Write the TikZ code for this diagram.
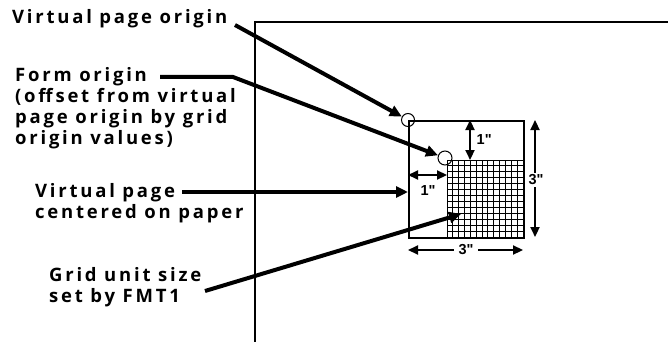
\documentclass[tikz,border=0pt]{standalone}
\usepackage{fontspec}
\setmainfont{Open Sans}[LetterSpace=15]
\newfontfamily\dimfont{Liberation Sans}
\usetikzlibrary{arrows.meta,positioning}

\begin{document}
\begin{tikzpicture}[
			x=1pt,y=-1pt,
			lbl/.style={align=left,anchor=base west,inner sep=0pt,font=\bfseries\fontsize{18.5}{21}\selectfont},
			lead/.style={line width=4pt,-{Triangle[length=12pt,width=11pt]}},
			dimarrow/.style={line width=2.2pt,{Triangle[length=10pt,width=9pt]}-{Triangle[length=10pt,width=9pt]}},
			dimlbl/.style={font=\dimfont\bfseries\fontsize{14.5}{16}\selectfont,inner sep=1.5pt},
			ring/.style={draw,circle,line width=1pt,inner sep=0pt,minimum size=13pt}
			]
			\useasboundingbox (0,0) rectangle (668,342);
			% paper
			\draw[line width=2pt] (255,342) -- (255,22) -- (668,22);
			% virtual page and grid
			\node[draw,line width=2pt,anchor=north west,inner sep=0pt,minimum width=115pt,minimum height=117pt] (vpage) at (408,120) {};
			\coordinate (gnw) at (447,160);
			\coordinate (gse) at (523,237);
			\foreach \i in {0,...,13} {
				\draw[line width=1pt] (447+\i*5.846,160) -- (447+\i*5.846,237);
				\draw[line width=1pt] (447,160+\i*5.923) -- (523,160+\i*5.923);
			}
			\node[ring] (vpo) at (vpage.north west) {};
			\node[ring,minimum size=14pt] (fo) at (445,158) {};
			% labels (base = last line)
			\node[lbl] (vpol) at (12,24) {Virtual page origin};
			\node[lbl] (fol) at (15,144) {Form origin\\(offset from virtual\\page origin by grid\\origin values)};
			\node[lbl] (vpcl) at (35,218) {Virtual page\\centered on paper};
			\node[lbl] (gul) at (49,302) {Grid unit size\\set by FMT1};
			% leaders
			\coordinate (vpostart) at (235,25);
			\coordinate (fostart) at (160,77);
			\coordinate (fobend) at (233,77);
			\coordinate (vpcstart) at (182,192);
			\coordinate (gustart) at (205,291);
			\coordinate (guend) at (461,214);
			\draw[lead] (vpostart) -- (vpo);
			\draw[lead] (fostart) -- (fobend) -- (fo);
			\draw[lead] (vpcstart) -- (vpcstart -| vpage.west);
			\draw[lead] (gustart) -- (guend);
			% dimensions
			\draw[dimarrow] (470,120) -- (gnw -| 470,0);
			\node[dimlbl,anchor=west] (d1v) at (475,140) {1"};
			\draw[dimarrow] (408,175) -- (gnw |- 0,175);
			\node[dimlbl] (d1h) at (428,191) {1"};
			\draw[dimarrow] (535,120) -- (535,237);
			\node[dimlbl,fill=white] (d3v) at (536,180) {3"};
			\draw[dimarrow] (408,250) -- (gse |- 0,250);
			\node[dimlbl,fill=white,inner xsep=5pt] (d3h) at (466,250) {3"};
		\end{tikzpicture}
\end{document}
